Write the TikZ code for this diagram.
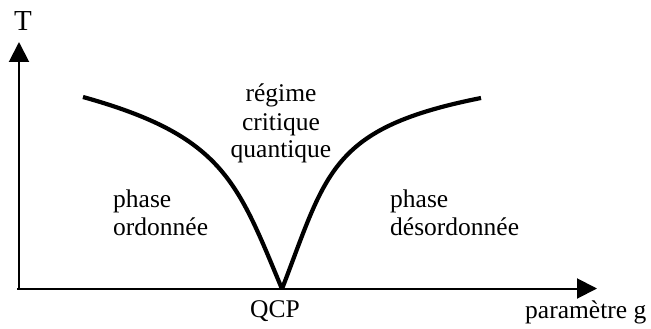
\documentclass[tikz,border=0pt]{standalone}
\usepackage{fontspec}
\setmainfont{Liberation Serif}
\usetikzlibrary{arrows.meta}
\begin{document}
\begin{tikzpicture}[x=1pt,y=-1pt,
  axis/.style={line width=2pt,-{Triangle[width=20pt,length=20pt]}},
  crit/.style={line width=4.2pt,line join=miter},
  lbl/.style={inner sep=0pt,font=\fontsize{25.5}{28}\selectfont}]
\useasboundingbox (0,0) rectangle (651,329);
\coordinate (O) at (17,288.5);
\coordinate (yend) at (19,42);
\coordinate (xend) at (597,288.5);
\draw[axis] (19,289.5) -- (yend);
\draw[axis] (O) -- (xend);
\coordinate (L) at (83,97);
\coordinate (C) at (282,289);
\coordinate (R) at (481,98);
\draw[crit] (L) .. controls (223,136) and (237,181) .. (C);
\draw[crit] (C) .. controls (327,172) and (330,128) .. (R);
\node[lbl,anchor=base,font=\fontsize{29}{32}\selectfont] (T) at (23,31) {T};
\node[lbl,anchor=base] (qcp) at (275,317) {QCP};
\node[lbl,anchor=base west] (g) at (525,318) {paramètre g};
\node[lbl,anchor=base west] (po1) at (113,207) {phase};
\node[lbl,anchor=base west] (po2) at (113,235) {ordonnée};
\node[lbl,anchor=base west] (pd1) at (390,207) {phase};
\node[lbl,anchor=base west] (pd2) at (390,235) {désordonnée};
\node[lbl,anchor=base] (r1) at (281,102) {régime};
\node[lbl,anchor=base] (r2) at (281,130) {critique};
\node[lbl,anchor=base] (r3) at (281,157) {quantique};
\end{tikzpicture}
\end{document}
